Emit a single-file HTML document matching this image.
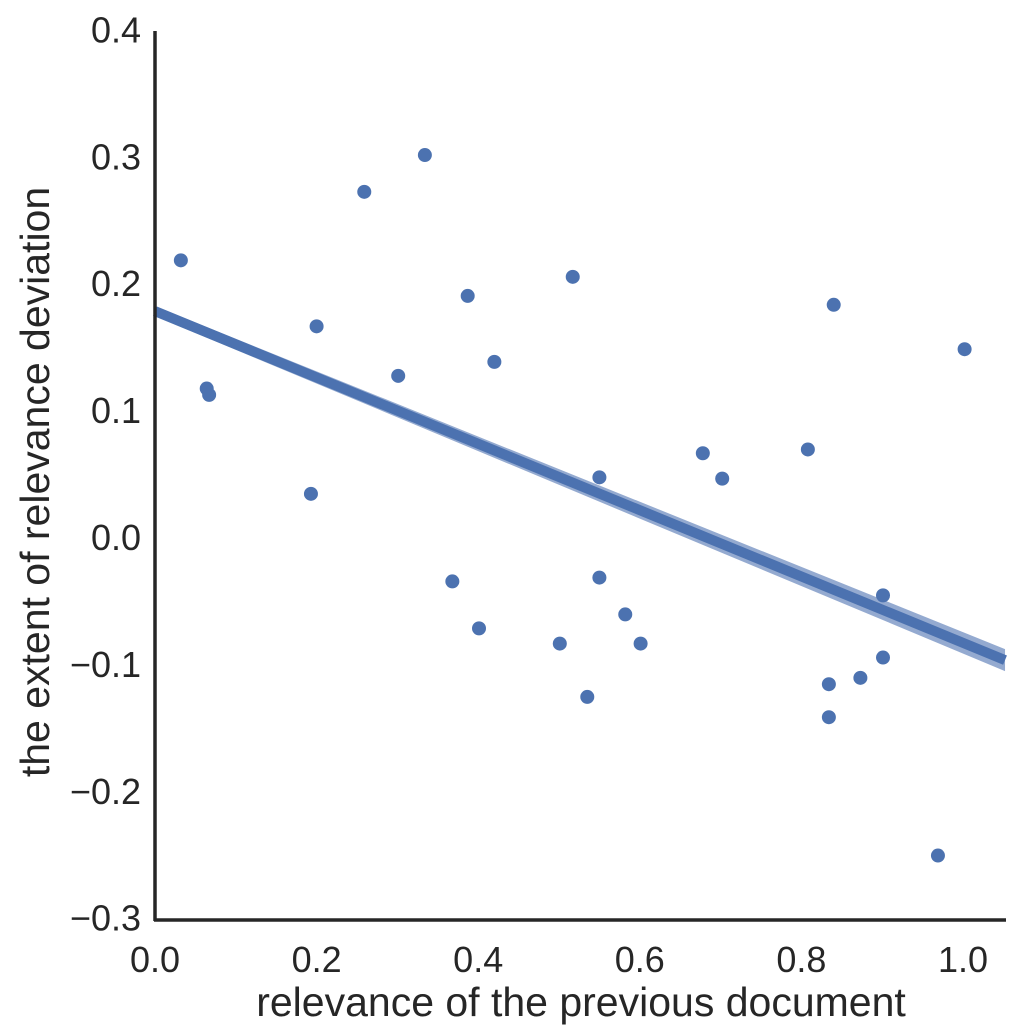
<!DOCTYPE html>
<html><head><meta charset="utf-8"><style>
html,body{margin:0;padding:0;background:#fff;}
svg{display:block;font-family:"Liberation Sans",sans-serif;}
</style></head><body>
<svg id="chart" width="1024" height="1031" viewBox="0 0 1024 1031">
<g id="marks"></g>
<g id="axes"></g>
</svg>
<script>
const xs = [0.032,0.064,0.067,0.193,0.200,0.259,0.301,0.334,0.368,0.387,0.401,0.420,0.501,0.517,0.535,0.550,0.550,0.582,0.601,0.678,0.702,0.808,0.834,0.834,0.840,0.873,0.901,0.901,0.969,1.002];
const ys = [0.218,0.117,0.112,0.034,0.166,0.272,0.127,0.301,-0.035,0.190,-0.072,0.138,-0.084,0.205,-0.126,0.047,-0.032,-0.061,-0.084,0.066,0.046,0.069,-0.116,-0.142,0.183,-0.111,-0.046,-0.095,-0.251,0.148];
const xTicks = [0.0,0.2,0.4,0.6,0.8,1.0];
const yTicks = [0.4,0.3,0.2,0.1,0.0,-0.1,-0.2,-0.3];
const fitLine = [0.178,-0.097]; // y at x=0 and x=1.052
const xMax = 1.052;

const NS="http://www.w3.org/2000/svg";
const X = v => 155 + v*808;
const Y = v => 537 - v*1269;
const marks=document.getElementById('marks'), axes=document.getElementById('axes');
function mk(tag,attrs,parent){const e=document.createElementNS(NS,tag);for(const k in attrs)e.setAttribute(k,attrs[k]);parent.appendChild(e);return e;}

const x0=X(0), x1=X(xMax);
const band=mk('polygon',{points:`${x0},${Y(fitLine[0])-5} ${x1},${Y(fitLine[1])-11} ${x1},${Y(fitLine[1])+11} ${x0},${Y(fitLine[0])+5}`,fill:'#4c72b0','fill-opacity':'0.6'},marks);


const ln=mk('line',{x1:x0,y1:Y(fitLine[0]),x2:x1,y2:Y(fitLine[1]),stroke:'#4c72b0','stroke-width':10},marks);



for(let i=0;i<xs.length;i++){
  const c=mk('circle',{cx:X(xs[i]),cy:Y(ys[i]),r:7,fill:'#4c72b0'},marks);
  
  
}

const ya=mk('line',{x1:155,y1:31,x2:155,y2:921,stroke:'#262626','stroke-width':3.5},axes);


const xa=mk('line',{x1:154,y1:920,x2:1006,y2:920,stroke:'#262626','stroke-width':3.5},axes);



yTicks.forEach(v=>{
  const t=mk('text',{x:141,y:Y(v)+13,'text-anchor':'end','font-size':36,fill:'#262626'},axes);
  t.textContent=(v<0?'\u2212':'')+Math.abs(v).toFixed(1);
  
  
});
xTicks.forEach(v=>{
  const t=mk('text',{x:X(v),y:972,'text-anchor':'middle','font-size':36,fill:'#262626'},axes);
  t.textContent=v.toFixed(1);
  
  
});
const xt=mk('text',{x:581,y:1016,'text-anchor':'middle','font-size':41,fill:'#262626'},axes);
xt.textContent='relevance of the previous document';


const yt=mk('text',{x:0,y:0,'text-anchor':'middle','font-size':41,fill:'#262626',transform:'translate(49,482) rotate(-90)'},axes);
yt.textContent='the extent of relevance deviation';


</script>
</body></html>
